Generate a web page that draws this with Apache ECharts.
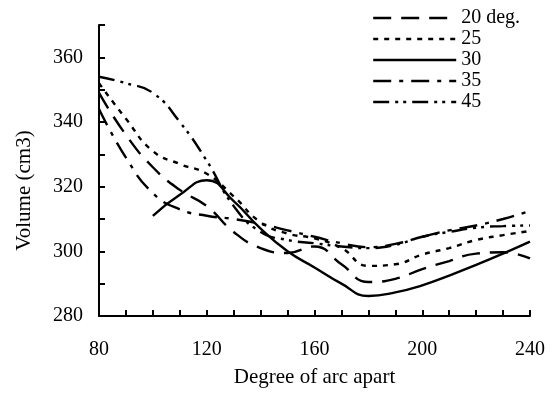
<!DOCTYPE html>
<html>
<head>
<meta charset="utf-8">
<script src="https://cdn.jsdelivr.net/npm/echarts@6/dist/echarts.min.js"></script>
<style>
  html, body { margin: 0; padding: 0; background: #fff; }
  #chart { width: 553px; height: 393px; }
</style>
</head>
<body>
<div id="chart"></div>
<script>
// degree of arc apart
var degrees = [80, 90, 100, 110, 120, 130, 140, 150, 160, 170, 180, 190, 200, 210, 220, 230, 240];
// volume (cm3) per angle
var vol20 = [349, 336, 326, 319, 314, 306, 301, 299.5, 301.5, 296, 290.5, 291.5, 294.5, 297, 299.3, 299.7, 297.8];
var vol25 = [352, 341, 331, 327, 324, 317, 309, 305.5, 304, 301, 295.5, 296, 299, 301, 303.5, 305, 306.3];
var vol30 = [null, null, 311, 317.5, 322, 315.5, 307, 300, 295, 290, 286.2, 287.3, 289.5, 292.5, 295.8, 299.3, 303];
var vol35 = [344, 329, 318, 313, 311, 310, 308.5, 306.5, 304.5, 302.5, 301.3, 302.3, 304.5, 306.5, 308, 310, 312.5];
var vol45 = [354, 352, 349, 340, 328, 314, 306, 303.5, 302.5, 301.5, 301, 302, 304.5, 306, 307.3, 307.8, 308];
var names = ['20 deg.', '25', '30', '35', '45'];

var font = 'Liberation Serif';

function pairs(vals) {
  var out = [];
  for (var i = 0; i < degrees.length; i++) {
    if (vals[i] != null) out.push([degrees[i], vals[i]]);
  }
  return out;
}

function line(name, vals, dash) {
  return {
    name: name,
    type: 'line',
    smooth: 0.5,
    symbol: 'none',
    color: '#000',
    data: pairs(vals),
    lineStyle: { color: '#000', width: 2.4, type: dash }
  };
}

var chart = echarts.init(document.getElementById('chart'));
var option = {
  animation: false,
  backgroundColor: '#fff',
  grid: { left: 99, right: 23, top: 25, bottom: 77 },
  legend: {
    orient: 'vertical',
    left: 372,
    top: 8,
    padding: 0,
    itemWidth: 83,
    itemHeight: 12,
    itemGap: 1,
    data: names,
    itemStyle: { opacity: 0 },
    lineStyle: { width: 2.4 },
    textStyle: { fontFamily: font, fontSize: 20, color: '#000', lineHeight: 20 }
  },
  xAxis: {
    type: 'value',
    min: 80,
    max: 240,
    interval: 10,
    name: 'Degree of arc apart',
    nameLocation: 'middle',
    nameGap: 51,
    nameTextStyle: { fontFamily: font, fontSize: 21, color: '#000' },
    axisLine: { lineStyle: { color: '#000', width: 2 } },
    axisTick: { inside: true, length: 6, lineStyle: { color: '#000', width: 2 } },
    axisLabel: {
      margin: 24,
      fontFamily: font, fontSize: 20, color: '#000',
      formatter: function (v) { return v % 40 === 0 ? v : ''; }
    },
    splitLine: { show: false }
  },
  yAxis: {
    type: 'value',
    min: 280,
    max: 370,
    interval: 10,
    name: 'Volume (cm3)',
    nameLocation: 'middle',
    nameGap: 64,
    nameTextStyle: { fontFamily: font, fontSize: 21, color: '#000', padding: [0, 40, 0, 0] },
    axisLine: { lineStyle: { color: '#000', width: 2 } },
    axisTick: { inside: true, length: 6, lineStyle: { color: '#000', width: 2 } },
    axisLabel: {
      margin: 16,
      fontFamily: font, fontSize: 20, color: '#000',
      formatter: function (v) { return v % 20 === 0 && v <= 360 ? v : ''; }
    },
    splitLine: { show: false }
  },
  series: [
    line(names[0], vol20, [18, 10]),
    line(names[1], vol25, [5, 6]),
    line(names[2], vol30, 'solid'),
    line(names[3], vol35, [18, 8, 4, 8]),
    line(names[4], vol45, [16, 6, 3, 5, 3, 6])
  ]
};
chart.setOption(option);
</script>
</body>
</html>
